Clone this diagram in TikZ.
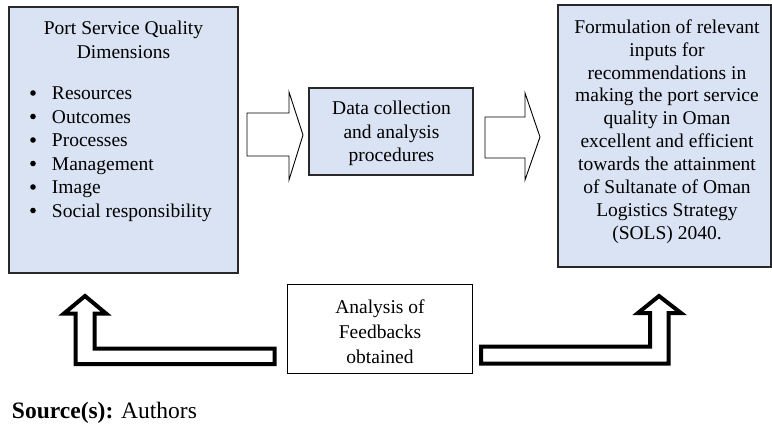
\documentclass[tikz,border=0pt]{standalone}
\usepackage{fontspec}
\setmainfont{Liberation Serif}
\usetikzlibrary{calc}
\definecolor{boxblue}{RGB}{218,227,243}
\definecolor{boxline}{RGB}{40,40,40}
\begin{document}
\begin{tikzpicture}[x=1pt,y=-1pt,
  every node/.style={inner sep=0pt, outer sep=0pt},
  txt/.style={font=\fontsize{19.5}{23.3}\selectfont, anchor=base},
  panel/.style={draw=boxline, line width=1.2pt, fill=boxblue},
  plainpanel/.style={draw=black, line width=0.9pt, fill=white},
  bulletdot/.style={circle, fill=black, minimum size=5.6pt},
  blockarrow/.style={draw=black, line width=0.9pt, fill=white, line join=miter},
  thickarrow/.style={draw=black, line width=4pt, fill=white, line join=miter, miter limit=10},
]
\useasboundingbox (0,0) rectangle (772,425);

% boxes
\node[panel, minimum width=229, minimum height=266, anchor=north west] (lbox) at (9,7) {};
\node[panel, minimum width=164, minimum height=87, anchor=north west] (mbox) at (309,88) {};
\node[panel, minimum width=213, minimum height=262, anchor=north west] (rbox) at (558,5) {};
\node[plainpanel, minimum width=185, minimum height=89, anchor=north west] (bbox) at (287,284) {};

% left box: title and bullet list
\node[txt] (ltitle1) at (123.5,35) {Port Service Quality};
\node[txt] (ltitle2) at (123.5,58.3) {Dimensions};
\foreach \item [count=\i] in {Resources,Outcomes,Processes,Management,Image,Social responsibility}{
  \pgfmathsetmacro{\yb}{100+23.5*(\i-1)}
  \node[bulletdot] (bul\i) at (33,\yb-7) {};
  \node[txt, anchor=base west] (item\i) at (52,\yb) {\item};
}

% middle box
\foreach \line [count=\i] in {Data collection,and analysis,procedures}{
  \node[txt] (mline\i) at (391.5,{115+23.5*(\i-1)}) {\line};
}

% right box
\foreach \line [count=\i] in {Formulation of relevant,inputs for,recommendations in,making the port service,quality in Oman,excellent and efficient,towards the attainment,of Sultanate of Oman,Logistics Strategy,(SOLS) 2040.}{
  \node[txt] (rline\i) at (667,{33.3+22.9*(\i-1)}) {\line};
}

% bottom box
\foreach \line [count=\i] in {Analysis of,Feedbacks,obtained}{
  \node[txt] (bline\i) at (380,{313.3+25*(\i-1)}) {\line};
}

% block arrows between the top boxes
\draw[blockarrow] ($(lbox.east)+(9,-27)$) -- ++(42,0) -- ++(0,-21) -- ++(14,43)
  -- ++(-14,45) -- ++(0,-24) -- ++(-42,0) -- cycle;
\draw[blockarrow] ($(mbox.east)+(12,-14.5)$) -- ++(40,0) -- ++(0,-24) -- ++(15,44)
  -- ++(-15,43) -- ++(0,-22) -- ++(-40,0) -- cycle;

% feedback arrows from the bottom box back up
\draw[thickarrow] ($(bbox.west)+(-12.5,20.2)$) -- ++(0,15.3) -- ++(-199,0) -- ++(0,-50.5)
  -- ++(-11.5,0) -- ++(21,-17.5) -- ++(21,17.5) -- ++(-11.5,0) -- ++(0,35.2) -- cycle;
\draw[thickarrow] ($(bbox.east)+(9,18)$) -- ++(169,0) -- ++(0,-33.5) -- ++(-12,0)
  -- ++(21,-17) -- ++(22,17) -- ++(-12.5,0) -- ++(0,50.5) -- ++(-187.5,0) -- cycle;

% source line
\node[font=\fontsize{23.5}{28}\selectfont, anchor=base west] (source) at (12,418)
  {\textbf{Source(s):} Authors};
\end{tikzpicture}
\end{document}
